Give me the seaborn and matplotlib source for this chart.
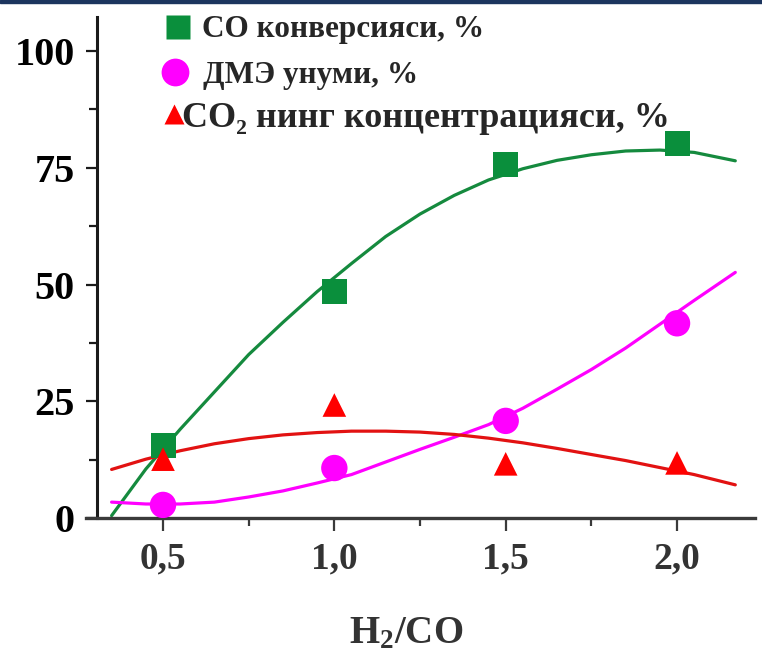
import matplotlib
matplotlib.use("Agg")
import matplotlib.pyplot as plt
import seaborn as sns
from matplotlib.ticker import FixedLocator, FixedFormatter, MultipleLocator
from matplotlib.lines import Line2D
from matplotlib.patches import Rectangle

# ---------------- data ----------------
ratio = [0.5, 1.0, 1.5, 2.0]
co_conversion = [15.6, 48.6, 75.8, 80.3]
dme_yield = [2.8, 10.7, 20.8, 41.7]
co2_conc = [12.6, 24.2, 11.6, 11.8]

# fitted curves
fit_x = [0.35, 0.45, 0.55, 0.65, 0.75, 0.85, 0.95, 1.05, 1.15, 1.25,
         1.35, 1.45, 1.55, 1.65, 1.75, 1.85, 1.95, 2.05, 2.17]
co_fit = [0.5, 10.5, 19.0, 27.0, 35.0, 41.9, 48.5, 54.5, 60.3, 65.1,
          69.1, 72.4, 74.8, 76.6, 77.8, 78.6, 78.8, 78.3, 76.5]
dme_fit = [3.4, 3.0, 3.0, 3.4, 4.5, 5.8, 7.5, 9.3, 12.0, 14.7,
           17.3, 20.0, 23.5, 27.6, 31.8, 36.4, 41.5, 46.6, 52.6]
co2_fit = [10.4, 12.6, 14.4, 15.9, 17.0, 17.8, 18.3, 18.6, 18.6, 18.4,
           17.9, 17.1, 16.1, 14.9, 13.6, 12.3, 10.8, 9.3, 7.1]

xtick_values = [0.5, 1.0, 1.5, 2.0]
xtick_labels = ["0,5", "1,0", "1,5", "2,0"]
ytick_values = [0, 25, 50, 75, 100]
ytick_labels = ["0", "25", "50", "75", "100"]
legend_labels = ["CO конверсияси, %", "ДМЭ унуми, %", "CO₂ нинг концентрацияси, %"]
x_label = r"$\mathbf{H_2/CO}$"

# ---------------- style ----------------
sns.set_style("ticks")
plt.rcParams["font.family"] = ["Liberation Serif", "DejaVu Serif"]
plt.rcParams["font.weight"] = "bold"
plt.rcParams["mathtext.fontset"] = "custom"
plt.rcParams["mathtext.rm"] = "Liberation Serif:bold"
plt.rcParams["mathtext.bf"] = "Liberation Serif:bold"
plt.rcParams["mathtext.it"] = "Liberation Serif:bold"

GREEN_M = "#0a8f3c"
GREEN_L = "#158a3e"
MAGENTA = "#ff00ff"
RED_M = "#ff0000"
RED_L = "#e21212"

W, H = 762, 652
fig = plt.figure(figsize=(W / 100, H / 100), dpi=100)
ax = fig.add_axes([86 / W, 134 / H, 669 / W, 501 / H])

# curves
sns.lineplot(x=fit_x, y=co_fit, ax=ax, color=GREEN_L, lw=2.3, sort=False, estimator=None, zorder=2)
sns.lineplot(x=fit_x, y=dme_fit, ax=ax, color=MAGENTA, lw=2.3, sort=False, estimator=None, zorder=2)
sns.lineplot(x=fit_x, y=co2_fit, ax=ax, color=RED_L, lw=2.3, sort=False, estimator=None, zorder=2)

# points
sns.scatterplot(x=ratio, y=co_conversion, ax=ax, marker="s", s=18 ** 2, color=GREEN_M,
                edgecolor="none", legend=False, zorder=3)
sns.scatterplot(x=ratio, y=dme_yield, ax=ax, marker="o", s=19 ** 2, color=MAGENTA,
                edgecolor="none", legend=False, zorder=3)
sns.scatterplot(x=ratio, y=co2_conc, ax=ax, marker="^", s=17 ** 2, color=RED_M,
                edgecolor="none", legend=False, zorder=3)

# axes
ax.set_xlim(0.2753, 2.2275)
ax.set_ylim(0, 107.3)
ax.spines["top"].set_visible(False)
ax.spines["right"].set_visible(False)
ax.spines["left"].set_position(("data", 0.3074))
ax.spines["left"].set_linewidth(2.2)
ax.spines["left"].set_color("#1a1a1a")
ax.spines["bottom"].set_linewidth(2.4)
ax.spines["bottom"].set_color("#3a3a3a")

ax.xaxis.set_major_locator(FixedLocator(xtick_values))
ax.xaxis.set_major_formatter(FixedFormatter(xtick_labels))
ax.xaxis.set_minor_locator(MultipleLocator(0.25))
ax.yaxis.set_major_locator(FixedLocator(ytick_values))
ax.yaxis.set_major_formatter(FixedFormatter(ytick_labels))
ax.yaxis.set_minor_locator(MultipleLocator(12.5))

ax.tick_params(axis="y", which="major", direction="out", length=8, width=1.6,
               color="#1a1a1a", pad=8, labelsize=29, labelcolor="black")
ax.tick_params(axis="y", which="minor", direction="out", length=6, width=1.6, color="#1a1a1a")
ax.tick_params(axis="x", which="major", direction="out", length=9, width=1.6,
               color="#3a3a3a", pad=8, labelsize=27, labelcolor="#333333")
ax.tick_params(axis="x", which="minor", direction="out", length=6, width=1.6, color="#3a3a3a")
for t in ax.get_xticklabels() + ax.get_yticklabels():
    t.set_fontweight("bold")

ax.set_xlabel(x_label, fontsize=28, color="#333333")
ax.xaxis.set_label_coords((406 - 86) / 669, -0.195)
ax.set_ylabel("")

# legend (three rows, positioned individually)
handles = [
    Line2D([], [], ls="none", marker="s", ms=17, color=GREEN_M, mec="none"),
    Line2D([], [], ls="none", marker="o", ms=20, color=MAGENTA, mec="none"),
    Line2D([], [], ls="none", marker="^", ms=15, color=RED_M, mec="none"),
]
rows = [
    (handles[0], legend_labels[0], 22.5, 162.4 / W, 1 - 30 / H, 1.0, 0.27),
    (handles[1], legend_labels[1], 22.5, 159.4 / W, 1 - 75 / H, 1.0, 0.40),
    (handles[2], legend_labels[2], 26, 165.7 / W, 1 - 118 / H, 0.46, 0.0),
]
for h, lab, fs, x0, y0, hl, htp in rows:
    leg = fig.legend([h], [lab], loc="center left", bbox_to_anchor=(x0, y0),
                     frameon=False, borderpad=0, borderaxespad=0, handlelength=hl,
                     handletextpad=htp, prop={"family": "Liberation Serif",
                                               "weight": "bold", "size": fs})

# thin navy frame line at the top
fig.patches.append(Rectangle((0, 1 - 2.5 / H), 1, 2.5 / H, transform=fig.transFigure,
                             color="#1c355e", zorder=10))

fig.savefig("out.png", dpi=100)
